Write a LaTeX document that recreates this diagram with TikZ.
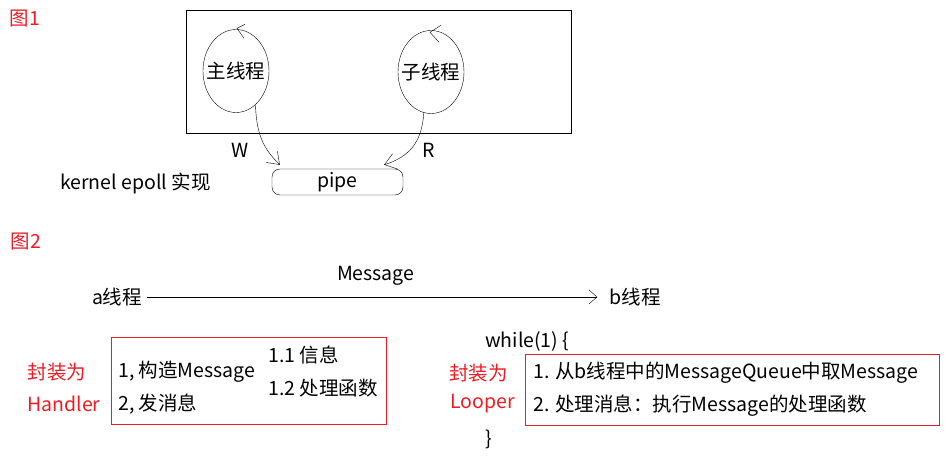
\documentclass[tikz,border=0pt]{standalone}
\usepackage{fontspec}
\setmainfont{Noto Sans CJK SC}
\usetikzlibrary{shapes.geometric,arrows.meta,positioning}
\definecolor{redink}{RGB}{237,28,36}

\begin{document}
\begin{tikzpicture}[x=1pt,y=-1pt,thin,
  every node/.style={font=\fontsize{19.5}{23}\selectfont,inner sep=0pt},
  tag/.style={text=redink},
  thread/.style={draw,ellipse,minimum width=66pt,minimum height=83pt},
  handarrow/.style={-{Straight Barb[length=11pt,width=16pt]}},
  redbox/.style={draw=redink}]
\useasboundingbox (0,0) rectangle (951,457);

% fig 1
\node[tag] (fig1) at (25,19) {图1};
\node[draw,minimum width=385pt,minimum height=123pt] (proc) at (378.5,71.5) {};
\node[thread] (main) at (236,71) {\makebox[0pt]{主线程}};
\node[thread] (sub) at (431,72) {\makebox[0pt]{子线程}};
\node[draw,rounded corners=8pt,minimum width=131pt,minimum height=26pt] (pipe) at (337.5,182) {pipe};
\node[anchor=west] (epoll) at (60,183) {kernel epoll 实现};

\draw ([shift={(9,-5)}]main.north) -- ([shift={(1,-1)}]main.north) -- ([shift={(8,9)}]main.north);
\draw ([shift={(10,-5)}]sub.north) -- ([shift={(-1,2)}]sub.north) -- ([shift={(8,12)}]sub.north);

\draw[handarrow] (main.-60) .. controls +(1,32) and +(-15,-15) .. ([shift={(8,-4)}]pipe.north west);
\draw[handarrow] (sub.-100) .. controls +(-2,30) and +(25,-8) .. ([shift={(-19,-4)}]pipe.north east);
\node (w) at (240,150) {W};
\node (r) at (429,150) {R};

% fig 2
\node[tag] (fig2) at (26,242) {图2};
\node (a) at (117,297) {a线程};
\node (b) at (635,297) {b线程};
\draw[-{Straight Barb[length=8pt,width=14pt]},shorten <=5pt,shorten >=12pt] (a) -- node[above=11.5pt] (msg) {Message} (b);

\node[redbox,minimum width=275pt,minimum height=87pt] (handler) at (248.5,380.5) {};
\node[tag] (wrap1) at (57,372) {封装为};
\node[tag] (hname) at (64,404) {Handler};
\node[anchor=west] (h1) at (118,372) {1, 构造Message};
\node[anchor=west] (h2) at (118,404) {2, 发消息};
\node[anchor=west] (h11) at (268,355) {1.1 信息};
\node[anchor=west] (h12) at (268,388) {1.2 处理函数};

\node[anchor=west] (loop) at (485,341) {while(1) \{};
\node[anchor=west] (close) at (485,439) {\}};
\node[redbox,minimum width=414pt,minimum height=71pt] (looper) at (732,389.5) {};
\node[tag] (wrap2) at (478.5,373) {封装为};
\node[tag] (lname) at (482.5,404) {Looper};
\node[anchor=west] (l1) at (533,373) {1. 从b线程中的MessageQueue中取Message};
\node[anchor=west] (l2) at (533,406) {2. 处理消息：执行Message的处理函数};
\end{tikzpicture}
\end{document}
